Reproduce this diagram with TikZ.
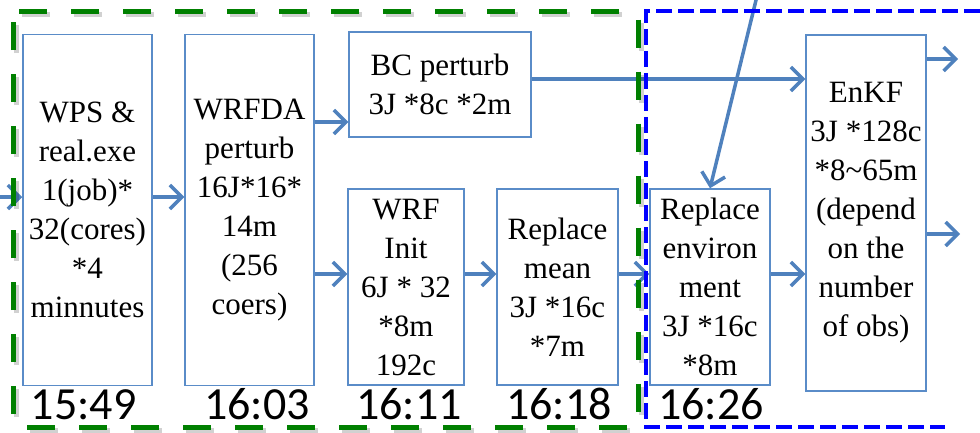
\documentclass[tikz,border=0pt]{standalone}
\usepackage{fontspec}
\setmainfont{Liberation Serif}
\newfontfamily\boxfont{Liberation Serif}
\newfontfamily\timefont{Carlito}
\usetikzlibrary{arrows.meta}
\definecolor{arrowc}{RGB}{79,129,189}
\definecolor{boxc}{RGB}{90,140,200}
\definecolor{greenc}{RGB}{0,128,0}
\definecolor{bluec}{RGB}{0,0,255}
\tikzset{
  stepbox/.style={draw=boxc, line width=1.5pt, inner sep=0pt, align=center,
    font=\boxfont\fontsize{31}{39}\selectfont},
  flow/.style={draw=arrowc, line width=3.5pt, -{Straight Barb[length=12pt,width=24pt]}},
  timelabel/.style={font=\timefont\fontsize{46}{50}\selectfont, anchor=base, inner sep=0pt},
  greenframe/.style={line width=5pt, dash pattern=on 28pt off 24pt, rounded corners=6pt},
}
\begin{document}
\begin{tikzpicture}[x=1pt,y=1pt]
\useasboundingbox (0,0) rectangle (980,432);
% boxes
\node[stepbox, minimum width=129pt, minimum height=351pt] (wps) at (87.5,222)
  {WPS \&\\real.exe\\1(job)*\\32(cores)\\*4\\minnutes};
\node[stepbox, minimum width=129pt, minimum height=351pt] (wrfda) at (249.5,222)
  {WRFDA\\perturb\\16J*16*\\14m\\(256\\coers)};
\node[stepbox, minimum width=182pt, minimum height=105pt] (bc) at (440,347.5)
  {BC perturb\\3J *8c *2m};
\node[stepbox, minimum width=116pt, minimum height=196pt] (init) at (406,145)
  {WRF\\Init\\6J * 32\\*8m\\192c};
\node[stepbox, minimum width=121pt, minimum height=196pt] (rmean) at (557.5,145)
  {Replace\\mean\\3J *16c\\*7m};
\node[stepbox, minimum width=120pt, minimum height=196pt] (renv) at (710,145)
  {Replace\\environ\\ment\\3J *16c\\*8m};
\node[stepbox, minimum width=120pt, minimum height=356pt] (enkf) at (866,219)
  {EnKF\\3J *128c\\*8\textasciitilde 65m\\(depend\\on the\\number\\of obs)};
% time labels
\node[timelabel] (t1) at (83.5,13) {15:49};
\node[timelabel] (t2) at (257,13) {16:03};
\node[timelabel] (t3) at (409,13) {16:11};
\node[timelabel] (t4) at (559,13) {16:18};
\node[timelabel] (t5) at (711,13) {16:26};
% helper coordinates
\coordinate (in) at (-5,235);
\coordinate (ya) at (0,235);
\coordinate (yb) at (0,310);
\coordinate (yc) at (0,158);
\coordinate (yd) at (0,353);
\coordinate (top) at (758,440);
\coordinate (out1) at (958,373);
\coordinate (out2) at (960,198);
% arrows
\draw[flow] (in) -- (wps.west |- ya);
\draw[flow] (wps.east |- ya) -- (wrfda.west |- ya);
\draw[flow] (wrfda.east |- yb) -- (bc.west |- yb);
\draw[flow] (wrfda.east |- yc) -- (init.west |- yc);
\draw[flow] (init.east |- yc) -- (rmean.west |- yc);
\draw[flow] (rmean.east |- yc) -- (renv.west |- yc);
\draw[flow] (bc.east |- yd) -- (enkf.west |- yd);
\draw[flow] (top) -- (renv.north);
\draw[flow] (renv.east |- yc) -- (enkf.west |- yc);
\draw[flow] (enkf.east |- out1) -- (out1);
\draw[flow] (enkf.east |- out2) -- (out2);
% dashed frames (with soft shadow)
\draw[black, opacity=0.18, greenframe]
  (16,417) -- (641,417) -- (641,2) -- (16,2) -- cycle;
\draw[greenc, greenframe]
  (13,420) -- (638,420) -- (638,5) -- (13,5) -- cycle;
\draw[bluec, line width=4pt, dash pattern=on 16pt off 6pt]
  (980,421) -- (646,421) -- (646,5) -- (945,5);
\end{tikzpicture}
\end{document}
